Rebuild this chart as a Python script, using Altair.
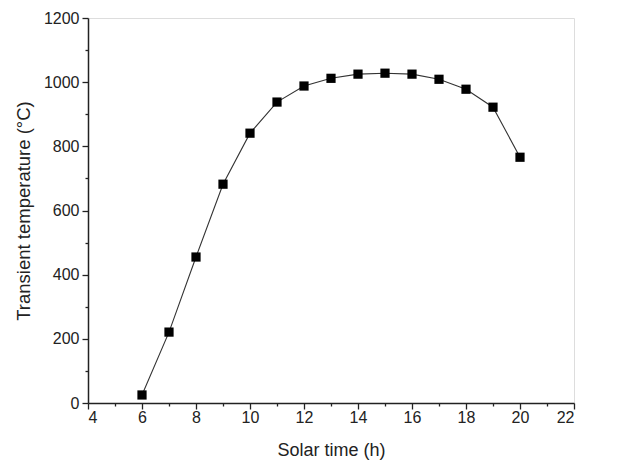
import altair as alt
import pandas as pd

hours = [6, 7, 8, 9, 10, 11, 12, 13, 14, 15, 16, 17, 18, 19, 20]
temps = [25, 221, 455, 682, 841, 938, 988, 1012, 1025, 1028, 1025, 1009, 978, 922, 766]

x_major = list(range(4, 23, 2))
x_minor = list(range(5, 22, 2))
y_major = list(range(0, 1201, 200))
y_minor = list(range(100, 1200, 200))

df = pd.DataFrame({"h": hours, "t": temps})

FONT = "Liberation Sans"
xs = alt.Scale(domain=[4, 22], nice=False, zero=False)
ys = alt.Scale(domain=[0, 1200], nice=False)

base = alt.Chart(df)

line = base.mark_line(color="#333333", strokeWidth=1.1).encode(
    x=alt.X("h:Q", scale=xs, axis=alt.Axis(
        orient="bottom", values=x_major, title="Solar time (h)", tickSize=6, format="d",
        labelPadding=0, titlePadding=16, grid=False, domainColor="#222222",
        tickColor="#222222", labelColor="#222222", titleColor="#222222",
        labelFont=FONT, titleFont=FONT, labelFontSize=16, titleFontSize=18,
        titleFontWeight="normal", domainWidth=1.5, tickWidth=1.3)),
    y=alt.Y("t:Q", scale=ys, axis=alt.Axis(
        orient="left", values=y_major, title="Transient temperature (°C)", tickSize=6, format="d",
        labelPadding=3, titlePadding=10, grid=False, domainColor="#222222",
        tickColor="#222222", labelColor="#222222", titleColor="#222222",
        labelFont=FONT, titleFont=FONT, labelFontSize=16, titleFontSize=18.5,
        titleFontWeight="normal", domainWidth=1.5, tickWidth=1.3)),
)

pts = base.mark_point(shape="square", filled=True, color="#000000", size=85, opacity=1).encode(
    x=alt.X("h:Q", scale=xs, axis=alt.Axis(
        orient="bottom", values=x_minor, title=None, labels=False, domain=False,
        tickSize=3, grid=False, tickColor="#222222", tickWidth=1.3)),
    y=alt.Y("t:Q", scale=ys, axis=alt.Axis(
        orient="left", values=y_minor, title=None, labels=False, domain=False,
        tickSize=3, grid=False, tickColor="#222222", tickWidth=1.3)),
)

chart = alt.layer(line, pts).resolve_axis(x="independent", y="independent").properties(
    width=486, height=385,
    autosize=alt.AutoSizeParams(type="none"),
    padding={"left": 80, "top": 10, "right": 40, "bottom": 60},
).configure_view(stroke=None).configure(background="white")

chart.save("out.html", embed_options={"renderer": "svg", "actions": False})
